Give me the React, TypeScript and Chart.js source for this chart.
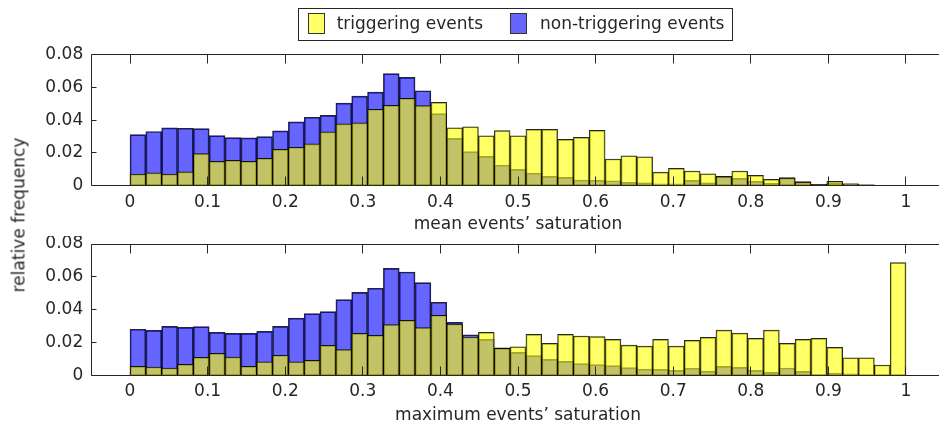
import React, { useEffect, useRef } from 'react';
import { Chart, registerables } from 'chart.js';

Chart.register(...registerables);

// ---------------- data ----------------
const BIN_COUNT = 49;
const binCenters: number[] = Array.from({ length: BIN_COUNT }, (_, i) => (i + 0.5) / BIN_COUNT);

const xTickValues = [0, 0.1, 0.2, 0.3, 0.4, 0.5, 0.6, 0.7, 0.8, 0.9, 1];
const yTickValues = [0, 0.02, 0.04, 0.06, 0.08];

const seriesLabels = ['triggering events', 'non-triggering events'];
const xTitles = ['mean events\u2019 saturation', 'maximum events\u2019 saturation'];
const yTitle = 'relative frequency';

const meanTriggering = [
  0.0071, 0.0078, 0.0071, 0.0084, 0.0196, 0.0149, 0.0155, 0.0149, 0.0167, 0.0222,
  0.0235, 0.0255, 0.0329, 0.0378, 0.0384, 0.0467, 0.0491, 0.0533, 0.0489, 0.0509,
  0.0354, 0.0360, 0.0305, 0.0336, 0.0305, 0.0344, 0.0344, 0.0283, 0.0295, 0.0338,
  0.0163, 0.0183, 0.0177, 0.0083, 0.0106, 0.0090, 0.0073, 0.0055, 0.0090, 0.0063,
  0.0039, 0.0047, 0.0022, 0.0008, 0.0026, 0.0012, 0.0006, 0.0002, 0,
];
const meanNonTriggering = [
  0.0312, 0.0331, 0.0353, 0.0351, 0.0349, 0.0306, 0.0294, 0.0292, 0.0300, 0.0335,
  0.0390, 0.0418, 0.0429, 0.0504, 0.0547, 0.0571, 0.0684, 0.0662, 0.0580, 0.0440,
  0.0289, 0.0208, 0.0179, 0.0126, 0.0100, 0.0077, 0.0057, 0.0051, 0.0035, 0.0033,
  0.0030, 0.0020, 0.0018, 0.0012, 0.0012, 0.0033, 0.0018, 0.0057, 0.0045, 0.0026,
  0.0014, 0.0050, 0.0025, 0.0008, 0.0014, 0.0012, 0.0006, 0.0002, 0,
];
const maxTriggering = [
  0.0057, 0.0053, 0.0047, 0.0069, 0.0111, 0.0136, 0.0113, 0.0057, 0.0085, 0.0124,
  0.0085, 0.0093, 0.0184, 0.0158, 0.0257, 0.0245, 0.0310, 0.0336, 0.0292, 0.0367,
  0.0314, 0.0235, 0.0263, 0.0166, 0.0176, 0.0251, 0.0196, 0.0251, 0.0241, 0.0237,
  0.0221, 0.0186, 0.0180, 0.0221, 0.0180, 0.0215, 0.0233, 0.0277, 0.0259, 0.0227,
  0.0277, 0.0196, 0.0221, 0.0227, 0.0172, 0.0109, 0.0109, 0.0065, 0.0687,
];
const maxNonTriggering = [
  0.0282, 0.0275, 0.0300, 0.0294, 0.0298, 0.0263, 0.0257, 0.0257, 0.0269, 0.0300,
  0.0350, 0.0377, 0.0389, 0.0462, 0.0506, 0.0531, 0.0652, 0.0630, 0.0565, 0.0446,
  0.0324, 0.0249, 0.0221, 0.0170, 0.0142, 0.0122, 0.0099, 0.0087, 0.0073, 0.0067,
  0.0061, 0.0049, 0.0040, 0.0038, 0.0032, 0.0045, 0.0028, 0.0057, 0.0051, 0.0032,
  0.0020, 0.0047, 0.0026, 0.0006, 0.0014, 0.0012, 0.0002, 0, 0.0002,
];

// ---------------- styles ----------------
const FONT_FAMILY = '"DejaVu Sans", "Liberation Sans", Arial, sans-serif';
const FONT_SIZE = 17;
const TEXT = '#262626';
const AXIS = '#262626';
const YELLOW = 'rgba(255,255,0,0.6)';
const BLUE = 'rgba(0,0,255,0.6)';
const EDGE = 'rgba(0,0,0,0.85)';
const CANVAS_W = 960;
const PLOT_LEFT = 91.2;
const PLOT_RIGHT = 944.8;

const fmtX = (v: number) => String(Number(Number(v).toFixed(2)));
const fmtY = (v: number) => (v === 0 ? '0' : Number(v).toFixed(2));

const framePlugin = {
  id: 'matlabFrame',
  afterDatasetsDraw(chart: any) {
    const { ctx, chartArea } = chart;
    const xs = chart.scales.x;
    const ys = chart.scales.y;
    const L = Math.floor(chartArea.left) + 0.5;
    const R = Math.floor(chartArea.right) + 0.5;
    const T = Math.floor(chartArea.top) + 0.5;
    const B = Math.floor(chartArea.bottom) + 0.5;
    ctx.save();
    ctx.strokeStyle = AXIS;
    ctx.lineWidth = 1;
    ctx.beginPath();
    ctx.rect(L, T, R - L, B - T);
    for (const v of xTickValues) {
      const px = Math.floor(xs.getPixelForValue(v)) + 0.5;
      ctx.moveTo(px, B);
      ctx.lineTo(px, B - 9);
      ctx.moveTo(px, T);
      ctx.lineTo(px, T + 9);
    }
    for (const v of yTickValues) {
      const py = Math.floor(ys.getPixelForValue(v)) + 0.5;
      ctx.moveTo(L, py);
      ctx.lineTo(L + 5, py);
      ctx.moveTo(R, py);
      ctx.lineTo(R - 5, py);
    }
    ctx.stroke();
    ctx.restore();
  },
};

const legendPlugin = {
  id: 'boxLegend',
  afterDraw(chart: any) {
    const ctx = chart.ctx;
    ctx.save();
    ctx.fillStyle = '#fff';
    ctx.fillRect(298.5, 8.5, 434, 32);
    ctx.strokeStyle = AXIS;
    ctx.lineWidth = 1;
    ctx.strokeRect(298.5, 8.5, 434, 32);
    const items = [
      { x: 308.5, tx: 336.7, fill: 'rgb(255,255,102)', label: seriesLabels[0] },
      { x: 510.5, tx: 540, fill: 'rgb(102,102,255)', label: seriesLabels[1] },
    ];
    ctx.font = `${FONT_SIZE}px ${FONT_FAMILY}`;
    ctx.textBaseline = 'alphabetic';
    ctx.textAlign = 'left';
    for (const it of items) {
      ctx.fillStyle = it.fill;
      ctx.fillRect(it.x, 13.5, 16, 20);
      ctx.strokeStyle = '#333';
      ctx.strokeRect(it.x, 13.5, 16, 20);
      ctx.fillStyle = TEXT;
      ctx.fillText(it.label, it.tx, 29.3);
    }
    ctx.restore();
  },
};

function buildConfig(
  yellow: number[],
  blue: number[],
  xTitle: string,
  g: { padTop: number; xHeight: number; tickPad: number; titlePadBottom: number },
  withLegend: boolean
): any {
  const font = { family: FONT_FAMILY, size: FONT_SIZE };
  const ds = (label: string, values: number[], color: string) => ({
    label,
    data: binCenters.map((x, i) => ({ x, y: values[i] })),
    backgroundColor: color,
    borderColor: EDGE,
    borderWidth: 1,
    borderSkipped: false,
    grouped: false,
    barPercentage: 1,
    categoryPercentage: 1,
  });
  return {
    type: 'bar',
    data: {
      datasets: [ds(seriesLabels[0], yellow, YELLOW), ds(seriesLabels[1], blue, BLUE)],
    },
    options: {
      responsive: false,
      animation: false,
      layout: { padding: { left: 0, right: CANVAS_W - PLOT_RIGHT, top: g.padTop, bottom: 0 } },
      plugins: { legend: { display: false }, tooltip: { enabled: false } },
      scales: {
        x: {
          type: 'linear',
          min: -0.05,
          max: 1.05,
          offset: false,
          grid: { display: false, drawTicks: false },
          border: { display: false },
          afterBuildTicks: (s: any) => {
            s.ticks = xTickValues.map((v) => ({ value: v }));
          },
          ticks: {
            padding: g.tickPad,
            font,
            color: TEXT,
            maxRotation: 0,
            autoSkip: false,
            callback: (v: any) => fmtX(v),
          },
          title: {
            display: true,
            text: xTitle,
            font,
            color: TEXT,
            padding: { top: 0, bottom: g.titlePadBottom },
          },
          afterFit: (s: any) => {
            s.height = g.xHeight;
            s.paddingLeft = 0;
            s.paddingRight = 0;
          },
        },
        y: {
          min: 0,
          max: 0.08,
          grid: { display: false, drawTicks: false },
          border: { display: false },
          afterBuildTicks: (s: any) => {
            s.ticks = yTickValues.map((v) => ({ value: v }));
          },
          ticks: {
            padding: 8,
            font,
            color: TEXT,
            autoSkip: false,
            callback: (v: any) => fmtY(v),
          },
          afterFit: (s: any) => {
            s.width = PLOT_LEFT;
            s.paddingTop = 0;
            s.paddingBottom = 0;
          },
        },
      },
    },
    plugins: withLegend ? [framePlugin, legendPlugin] : [framePlugin],
  };
}

export default function App() {
  const topRef = useRef<HTMLCanvasElement>(null);
  const botRef = useRef<HTMLCanvasElement>(null);

  useEffect(() => {
    const c1 = new Chart(
      topRef.current as HTMLCanvasElement,
      buildConfig(
        meanTriggering,
        meanNonTriggering,
        xTitles[0],
        { padTop: 54.7, xHeight: 236 - 185.7, tickPad: 6.4, titlePadBottom: 0.8 },
        true
      )
    );
    const c2 = new Chart(
      botRef.current as HTMLCanvasElement,
      buildConfig(
        maxTriggering,
        maxNonTriggering,
        xTitles[1],
        { padTop: 8, xHeight: 197 - 139.7, tickPad: 6.1, titlePadBottom: 6.8 },
        false
      )
    );
    return () => {
      c1.destroy();
      c2.destroy();
    };
  }, []);

  return (
    <div
      style={{
        position: 'fixed',
        left: 0,
        top: 0,
        width: 939,
        height: 433,
        overflow: 'hidden',
        background: '#fff',
      }}
    >
      <canvas ref={topRef} width={CANVAS_W} height={236} style={{ position: 'absolute', left: 0, top: 0 }} />
      <canvas ref={botRef} width={CANVAS_W} height={197} style={{ position: 'absolute', left: 0, top: 236 }} />
      <div
        style={{
          position: 'absolute',
          left: 19,
          top: 215,
          transform: 'translate(-50%, -50%) rotate(-90deg)',
          fontFamily: FONT_FAMILY,
          fontSize: FONT_SIZE,
          lineHeight: '17px',
          color: TEXT,
          whiteSpace: 'nowrap',
        }}
      >
        {yTitle}
      </div>
    </div>
  );
}
